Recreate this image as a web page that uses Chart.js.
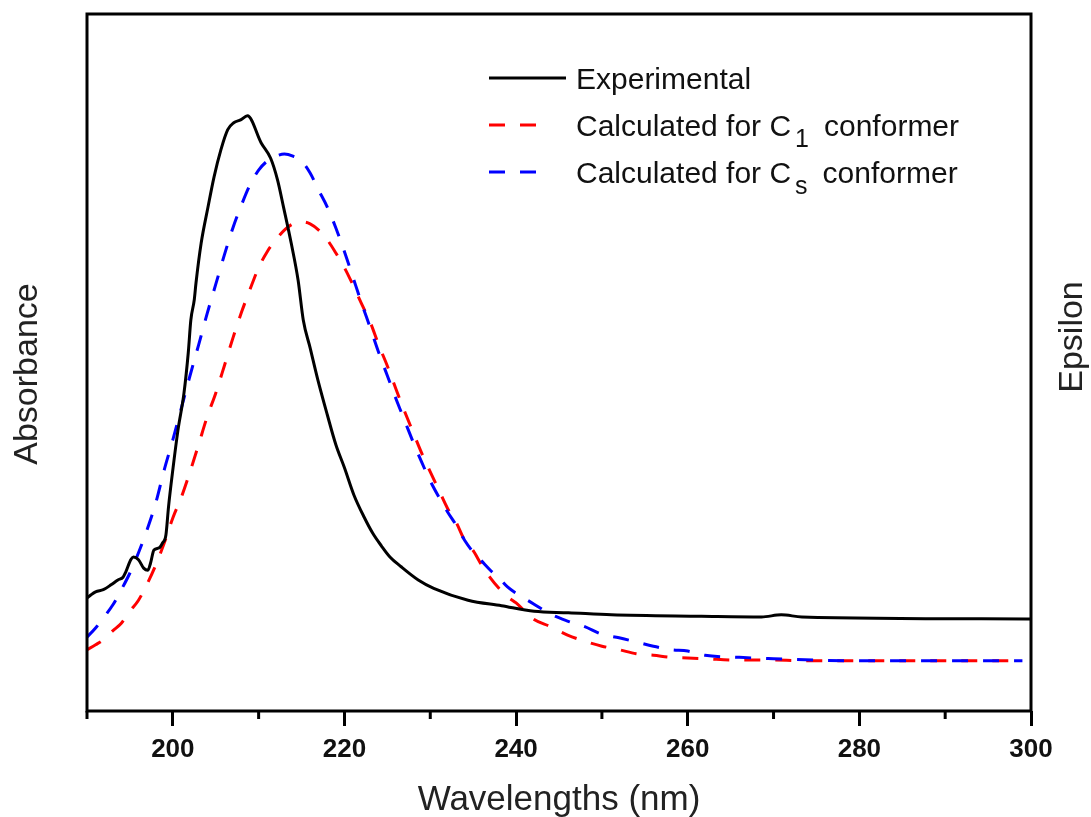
<!DOCTYPE html>
<html>
<head>
<meta charset="utf-8">
<script src="https://cdn.jsdelivr.net/npm/chart.js@4.4.1/dist/chart.umd.min.js"></script>
<style>
  body { margin: 0; background: #fff; }
  #wrap { width: 1091px; height: 817px; position: relative; }
</style>
</head>
<body>
<div id="wrap"><canvas id="uvChart"></canvas></div>
<script>
// Experimental spectrum (normalised absorbance)
const expWl = [190.0, 190.4, 191.0, 191.9, 192.8, 193.6, 194.2, 194.5, 195.1, 195.4, 196.0, 196.6, 197.1, 197.4, 197.8, 198.4, 198.8, 199.2, 199.5,
    200.0, 200.6, 201.3, 201.8, 202.1, 202.5, 202.7, 203.3, 204.1, 204.8, 205.6, 206.4, 207.1, 207.9, 208.7,
    210.3, 211.4, 212.2, 212.9, 213.8, 214.6, 215.2, 216.0, 216.9, 218.0, 219.0, 220.0, 221.1, 222.3, 223.3, 224.3, 225.3, 226.6, 228.6,
    230.4, 234.4, 238.3, 242.1, 246.1, 251.1, 261.6, 268.6, 270.9, 273.3, 300.0];
const expAbs = [0.162, 0.166, 0.171, 0.174, 0.181, 0.188, 0.192, 0.199, 0.217, 0.221, 0.217, 0.205, 0.202, 0.212, 0.231, 0.234, 0.241, 0.253, 0.293,
    0.346, 0.403, 0.456, 0.514, 0.561, 0.590, 0.614, 0.671, 0.723, 0.766, 0.805, 0.834, 0.844, 0.848, 0.854,
    0.815, 0.793, 0.762, 0.723, 0.671, 0.618, 0.561, 0.521, 0.475, 0.425, 0.382, 0.349, 0.310, 0.278, 0.255, 0.237, 0.221, 0.207, 0.188,
    0.176, 0.159, 0.151, 0.143, 0.141, 0.138, 0.136, 0.135, 0.138, 0.135, 0.132];

// Calculated spectra share one wavelength grid
const calcWl = [190, 191, 192, 193, 194, 195, 196, 197, 198, 199, 200, 201, 202, 203, 204, 205, 206, 207, 208, 209,
    210, 211, 212, 213, 214, 215, 216, 217, 218, 219, 220, 221, 222, 223, 224, 225, 226, 227, 228, 229,
    230, 231, 232, 233, 234, 235, 236, 237, 238, 239, 240, 242, 244, 246, 248, 250, 252, 254, 256, 258,
    260, 262, 266, 270, 275, 280, 290, 299];
const c1Abs = [0.088, 0.095, 0.103, 0.115, 0.126, 0.143, 0.159, 0.182, 0.209, 0.241, 0.277, 0.307, 0.343, 0.382, 0.422, 0.456, 0.495, 0.535, 0.572, 0.605,
    0.636, 0.659, 0.676, 0.690, 0.699, 0.702, 0.699, 0.690, 0.676, 0.657, 0.636, 0.611, 0.584, 0.558, 0.525, 0.495, 0.462, 0.430, 0.400, 0.370,
    0.343, 0.317, 0.291, 0.271, 0.245, 0.230, 0.209, 0.191, 0.176, 0.164, 0.155, 0.132, 0.121, 0.109, 0.100, 0.093, 0.088, 0.082, 0.080, 0.077,
    0.076, 0.075, 0.073, 0.073, 0.072, 0.072, 0.072, 0.072];
const csAbs = [0.106, 0.119, 0.135, 0.152, 0.174, 0.198, 0.227, 0.260, 0.298, 0.346, 0.389, 0.435, 0.481, 0.525, 0.570, 0.612, 0.654, 0.693, 0.726, 0.755,
    0.776, 0.789, 0.796, 0.799, 0.796, 0.789, 0.772, 0.747, 0.723, 0.693, 0.659, 0.622, 0.585, 0.550, 0.514, 0.481, 0.448, 0.417, 0.386, 0.357,
    0.330, 0.307, 0.286, 0.267, 0.245, 0.228, 0.215, 0.202, 0.191, 0.178, 0.169, 0.154, 0.139, 0.129, 0.121, 0.110, 0.105, 0.099, 0.093, 0.088,
    0.086, 0.080, 0.077, 0.075, 0.073, 0.072, 0.072, 0.072];

const majorTicks = [200, 220, 240, 260, 280, 300];
const minorTicks = [190, 210, 230, 250, 270, 290];

const FONT = "'Liberation Sans', Arial, sans-serif";
const toPoints = (xs, ys) => xs.map((x, i) => ({ x: x, y: ys[i] }));

// frame, minor ticks, axis titles and the legend (with subscripts)
const decorPlugin = {
    id: "decor",
    afterDraw(chart) {
        const { ctx, chartArea: a } = chart;
        const x = chart.scales.x;
        ctx.save();
        ctx.strokeStyle = "#000";
        ctx.lineWidth = 3;
        ctx.strokeRect(a.left, a.top, a.right - a.left, a.bottom - a.top);

        ctx.beginPath();
        minorTicks.forEach(v => {
            const px = x.getPixelForValue(v);
            ctx.moveTo(px, a.bottom);
            ctx.lineTo(px, a.bottom + 8);
        });
        ctx.stroke();

        // axis titles
        ctx.fillStyle = "#222";
        ctx.font = "35px " + FONT;
        ctx.textAlign = "center";
        ctx.textBaseline = "middle";
        ctx.fillText("Wavelengths (nm)", (a.left + a.right) / 2, 800);

        ctx.font = "34px " + FONT;
        ctx.save();
        ctx.translate(28, 374);
        ctx.rotate(-Math.PI / 2);
        ctx.fillText("Absorbance", 0, 0);
        ctx.restore();

        ctx.save();
        ctx.translate(1073, 337);
        ctx.rotate(-Math.PI / 2);
        ctx.fillText("Epsilon", 0, 0);
        ctx.restore();

        // legend
        ctx.textAlign = "left";
        ctx.textBaseline = "alphabetic";
        ctx.fillStyle = "#111";
        const rows = [
            { color: "#000", dash: [], y: 78, text: "Experimental" },
            { color: "#ff0000", dash: [16, 15], y: 125, text: "Calculated for C", sub: "1" },
            { color: "#0000ff", dash: [16, 15], y: 172, text: "Calculated for C", sub: "s" }
        ];
        rows.forEach(r => {
            ctx.strokeStyle = r.color;
            ctx.lineWidth = 3;
            ctx.setLineDash(r.dash);
            ctx.beginPath();
            ctx.moveTo(489, r.y);
            ctx.lineTo(r.dash.length ? 536 : 566, r.y);
            ctx.stroke();
            ctx.setLineDash([]);

            ctx.font = "30px " + FONT;
            const base = r.y + 11;
            ctx.fillText(r.text, 576, base);
            if (r.sub) {
                let tx = 576 + ctx.measureText(r.text).width + 4;
                ctx.font = "25px " + FONT;
                ctx.fillText(r.sub, tx, base + 11);
                tx += ctx.measureText(r.sub).width;
                ctx.font = "30px " + FONT;
                ctx.fillText("conformer", tx + 15, base);
            }
        });
        ctx.restore();
    }
};

new Chart(document.getElementById("uvChart"), {
    type: "line",
    data: {
        datasets: [
            {
                label: "Experimental",
                data: toPoints(expWl, expAbs),
                borderColor: "#000",
                borderWidth: 3,
                order: 0
            },
            {
                label: "Calculated for C1 conformer",
                data: toPoints(calcWl, c1Abs),
                borderColor: "#ff0000",
                borderWidth: 3,
                borderDash: [16, 15],
                order: 2
            },
            {
                label: "Calculated for Cs conformer",
                data: toPoints(calcWl, csAbs),
                borderColor: "#0000ff",
                borderWidth: 3,
                borderDash: [16, 15],
                order: 1
            }
        ]
    },
    options: {
        responsive: true,
        maintainAspectRatio: false,
        animation: false,
        layout: { padding: { top: 14, left: 0, right: 0, bottom: 0 } },
        elements: {
            point: { radius: 0 },
            line: { cubicInterpolationMode: "monotone", fill: false }
        },
        scales: {
            x: {
                type: "linear",
                min: 190,
                max: 300,
                afterBuildTicks: s => { s.ticks = majorTicks.map(v => ({ value: v })); },
                afterFit: s => { s.height = 106; },
                border: { display: false },
                grid: {
                    drawOnChartArea: false,
                    drawTicks: true,
                    tickLength: 15,
                    tickWidth: 3,
                    tickColor: "#000"
                },
                ticks: {
                    color: "#111",
                    padding: 8,
                    maxRotation: 0,
                    font: { family: FONT, size: 26, weight: "bold" }
                }
            },
            y: {
                min: 0,
                max: 1,
                afterFit: s => { s.width = 87; },
                border: { display: false },
                grid: { display: false },
                ticks: { display: false }
            },
            y2: {
                position: "right",
                min: 0,
                max: 1,
                afterFit: s => { s.width = 60; },
                border: { display: false },
                grid: { display: false },
                ticks: { display: false }
            }
        },
        plugins: {
            legend: { display: false },
            tooltip: { enabled: false }
        }
    },
    plugins: [decorPlugin]
});
</script>
</body>
</html>
